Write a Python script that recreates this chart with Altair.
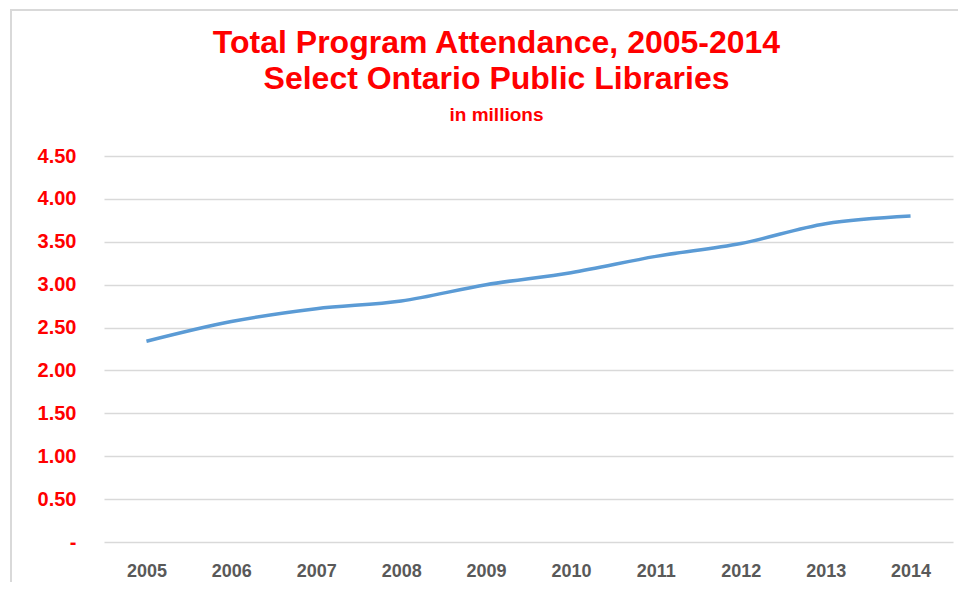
import altair as alt
import pandas as pd

years = ["2005", "2006", "2007", "2008", "2009", "2010", "2011", "2012", "2013", "2014"]
attendance = [2.34, 2.57, 2.72, 2.81, 3.00, 3.14, 3.33, 3.48, 3.71, 3.80]
y_ticks = [0, 0.5, 1.0, 1.5, 2.0, 2.5, 3.0, 3.5, 4.0, 4.5]

df = pd.DataFrame({"year": years, "value": attendance})

FONT = "Liberation Sans"
W, H = 849, 386
PL, PT = 96, 148

line = alt.Chart(df).mark_line(
    color="#5B9BD5", strokeWidth=3.5, interpolate="monotone"
).encode(
    x=alt.X("year:O", title=None,
            scale=alt.Scale(type="point", padding=0.5),
            axis=alt.Axis(labelAngle=0, ticks=False, domain=False, grid=False,
                          labelFont=FONT, labelFontSize=18, labelFontWeight="bold",
                          labelColor="#595959", labelPadding=20)),
    y=alt.Y("value:Q", title=None,
            scale=alt.Scale(domain=[0, 4.5], nice=False),
            axis=alt.Axis(values=y_ticks, ticks=False, domain=False,
                          grid=True, gridColor="#d9d9d9", gridWidth=1.6,
                          labelFont=FONT, labelFontSize=20, labelFontWeight="bold",
                          labelColor="#ff0000", labelPadding=28,
                          labelExpr="datum.value == 0 ? '-' : format(datum.value, '.2f')")),
)

frame = alt.Chart(df).mark_rect(
    fill=None, stroke="#d9d9d9", strokeWidth=2, clip=False
).encode(
    x=alt.value(11 - 8 - PL), x2=alt.value(W + 40),
    y=alt.value(10 - 8 - PT), y2=alt.value(H + 80),
)

chart = alt.layer(frame, line).properties(
    width=W, height=H,
    background="white",
    title=alt.Title(
        ["Total Program Attendance, 2005-2014", "Select Ontario Public Libraries"],
        subtitle="in millions",
        font=FONT, fontSize=32, fontWeight="bold", color="#ff0000",
        subtitleFont=FONT, subtitleFontSize=19, subtitleFontWeight="bold",
        subtitleColor="#ff0000", lineHeight=36, subtitlePadding=10,
        anchor="middle", frame="group", dx=-32, offset=-117,
    ),
    autosize=alt.AutoSizeParams(type="none"),
    padding={"left": PL, "top": PT, "right": 5, "bottom": 40},
).configure_view(stroke=None)

chart.save("out.html", embed_options={"renderer": "svg", "actions": False})
